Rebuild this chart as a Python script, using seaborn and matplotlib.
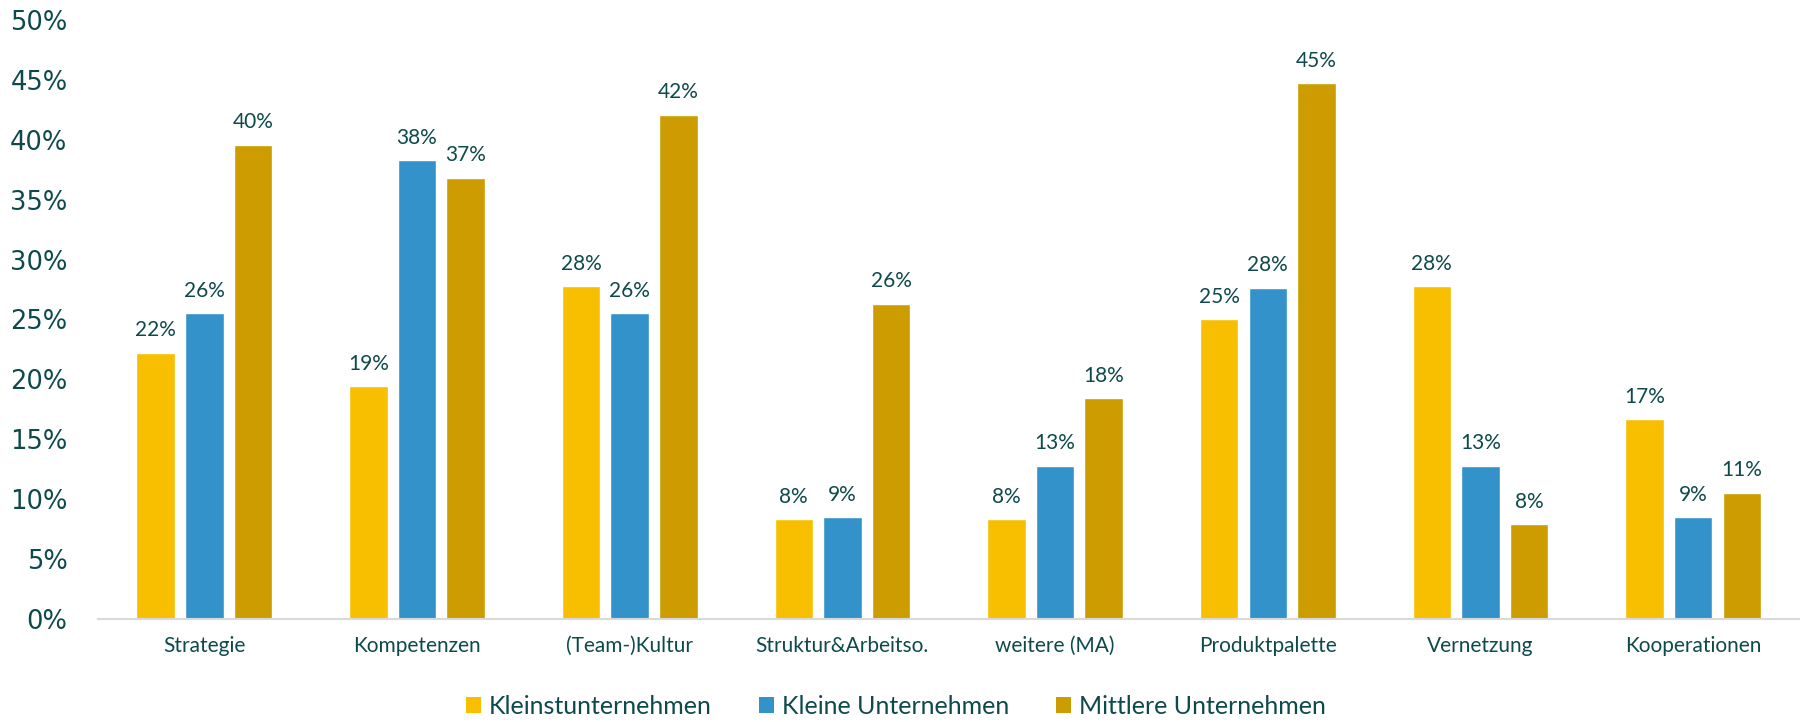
import matplotlib
matplotlib.use("Agg")
import matplotlib.pyplot as plt
from matplotlib import font_manager
from matplotlib.patches import Patch
import seaborn as sns
import pandas as pd

categories = ["Strategie", "Kompetenzen", "(Team-)Kultur", "Struktur&Arbeitso.",
              "weitere (MA)", "Produktpalette", "Vernetzung", "Kooperationen"]
series_names = ["Kleinstunternehmen", "Kleine Unternehmen", "Mittlere Unternehmen"]
kleinst = [22.22, 19.44, 27.78, 8.33, 8.33, 25.00, 27.78, 16.67]
kleine = [25.53, 38.30, 25.53, 8.51, 12.77, 27.66, 12.77, 8.51]
mittlere = [39.6, 36.84, 42.11, 26.32, 18.42, 44.74, 7.89, 10.53]
y_ticks = [0, 5, 10, 15, 20, 25, 30, 35, 40, 45, 50]
colors = ["#F7BF00", "#3492CB", "#CC9C00"]
text_color = "#0E4A4C"

names = {f.name for f in font_manager.fontManager.ttflist}
narrow = "Liberation Sans Narrow" if "Liberation Sans Narrow" in names else "Lato"

rows = []
for name, vals in zip(series_names, [kleinst, kleine, mittlere]):
    for c, v in zip(categories, vals):
        rows.append({"Kategorie": c, "Gruppe": name, "Wert": v})
df = pd.DataFrame(rows)

sns.set_theme(style="white")
plt.rcParams["font.family"] = ["DejaVu Sans"]

fig = plt.figure(figsize=(18.14, 7.22), dpi=100)
ax = fig.add_axes([0.054, 0.1427, 0.938, 0.8296])

sns.barplot(data=df, x="Kategorie", y="Wert", hue="Gruppe", order=categories,
            hue_order=series_names, palette=colors, width=0.686, gap=0.21,
            saturation=1, ax=ax, legend=False)

for cont in ax.containers:
    ax.bar_label(cont, labels=[f"{int(v + 0.5)}%" for v in cont.datavalues],
                 padding=9, fontsize=15, color=text_color, family=narrow)

ax.set_xlim(-0.5, 7.5)
ax.set_ylim(0, 50)
ax.set_yticks(y_ticks)
ax.set_yticklabels([f"{t}%" for t in y_ticks], fontsize=18.5, color=text_color)
ax.set_xlabel("")
ax.set_ylabel("")
ax.tick_params(axis="y", length=0, pad=22)
ax.tick_params(axis="x", length=0, pad=12)
for lab in ax.get_xticklabels():
    lab.set_fontsize(15)
    lab.set_color(text_color)
    lab.set_family(narrow)
for s in ["top", "right", "left"]:
    ax.spines[s].set_visible(False)
ax.spines["bottom"].set_color("#D9D9D9")
ax.spines["bottom"].set_linewidth(1.5)
ax.grid(False)

handles = [Patch(facecolor=c, edgecolor="none") for c in colors]
leg = fig.legend(handles, series_names, loc="center", bbox_to_anchor=(0.494, 0.022),
                 ncol=3, frameon=False, handlelength=0.6, handleheight=0.6,
                 handletextpad=0.3, columnspacing=1.9,
                 prop={"family": narrow, "size": 18})
for t in leg.get_texts():
    t.set_color(text_color)

fig.savefig("out.png", dpi=100)
